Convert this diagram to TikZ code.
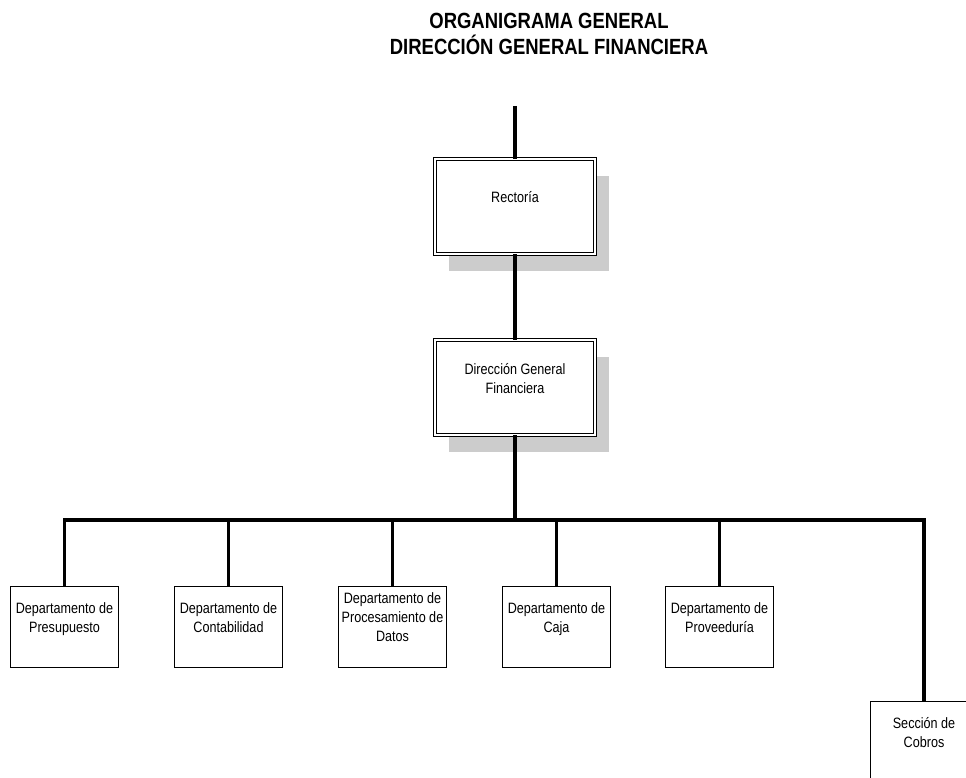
\documentclass[tikz,border=0pt]{standalone}
\usepackage{fontspec}
\setmainfont{Liberation Sans}[FakeStretch=0.84]
\usetikzlibrary{shadows}
\definecolor{sombra}{gray}{0.8}

\begin{document}
\begin{tikzpicture}[x=1pt, y=-1pt, % un punto por pixel, y hacia abajo
    caja/.style={draw, fill=white, line width=0.9pt, minimum width=108pt, minimum height=81pt,
        inner sep=2pt, align=center, font=\fontsize{15}{19}\selectfont,
        text depth=19pt}, % el texto queda un poco por encima del centro
    cajadoble/.style={caja, double, double distance=2pt, minimum width=160pt, minimum height=95pt,
        general shadow={fill=sombra, shadow xshift=14pt, shadow yshift=-17pt}},
    linea/.style={line width=3.2pt},
    titulo/.style={align=center, font=\bfseries\fontsize{22}{26}\selectfont}]

        \useasboundingbox (0,0) rectangle (966,778);

        % Titulo
        \node[titulo] (titulo) at (549,34) {ORGANIGRAMA GENERAL\\DIRECCIÓN GENERAL FINANCIERA};

        % Niveles superiores
        \node[cajadoble] (rect) at (515,206.5) {Rectoría};
        \node[cajadoble] (dir) at (515,387.5) {Dirección General\\Financiera};

        % Departamentos
        \node[caja] (pres) at (64.5,627) {Departamento de\\Presupuesto};
        \node[caja] (cont) at (228.5,627) {Departamento de\\Contabilidad};
        \node[caja] (proc) at (392.5,627) {Departamento de\\Procesamiento de\\Datos};
        \node[caja] (caja) at (556.5,627) {Departamento de\\Caja};
        \node[caja] (prov) at (719.5,627) {Departamento de\\Proveeduría};
        \node[caja] (cobros) at (924,742) {Sección de\\Cobros}; % queda cortada por el borde

        % Lineas de mando
        \coordinate (arriba) at (515,106);
        \coordinate (barra) at (515,520);
        \draw[linea] (arriba) -- (rect.north);
        \draw[linea] (rect) -- (dir);
        \draw[linea] (dir) -- (barra);
        \draw[linea] (pres.north) |- (barra) -| (cobros.north);
        \foreach \d in {cont,proc,caja,prov}
            \draw[linea] (\d.north) -- (\d.north |- barra);

    \end{tikzpicture}
\end{document}
